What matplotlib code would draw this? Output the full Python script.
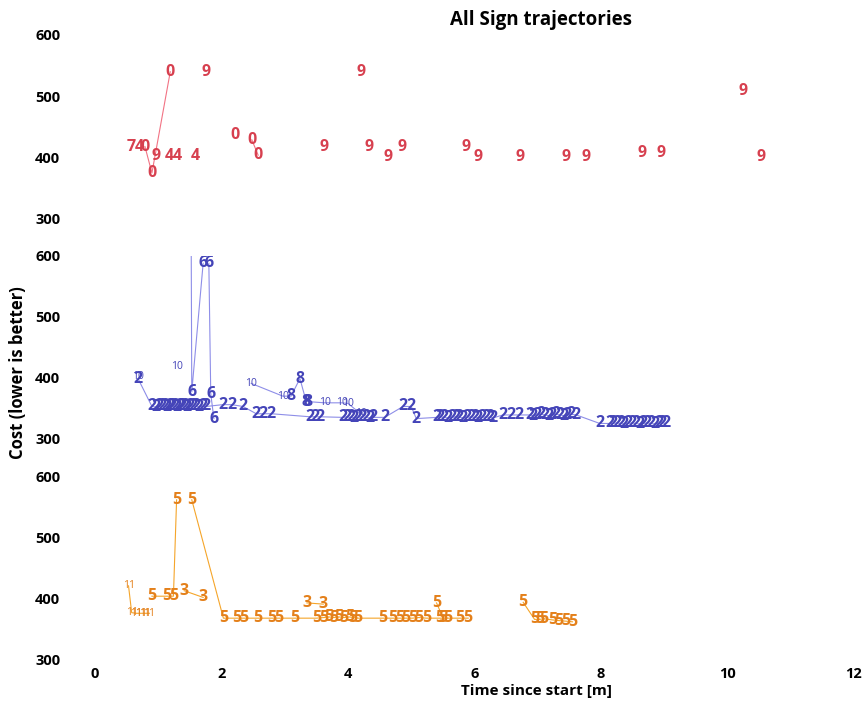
# Sign trajectories: cost over time, one panel per sign group.

import matplotlib.pyplot as plt

# --------------------------- DATA ---------------------------

# Top panel (red). track 0 = lone point, same track id > 0 = joined by a line.
red_labels = ['7', '4', '0', '0', '0', '9', '4', '4', '4', '9', '0', '0', '0', '9',
              '9', '9', '9', '9', '9', '9', '9', '9', '9', '9', '9', '9', '9']
red_times = [0.58, 0.70, 0.79, 0.90, 1.19, 0.96, 1.18, 1.30, 1.58, 1.76, 2.21, 2.48, 2.58, 3.62,
             4.20, 4.33, 4.63, 4.86, 5.87, 6.05, 6.72, 7.45, 7.76, 8.65, 8.95, 10.24, 10.53]
red_costs = [418, 418, 418, 375, 540, 402, 402, 402, 402, 540, 437, 429, 404, 418,
             540, 418, 401, 418, 418, 401, 401, 401, 401, 407, 407, 509, 401]
red_track = [0, 0, 1, 1, 1, 0, 0, 0, 0, 0, 0, 2, 2, 0,
             0, 0, 0, 0, 0, 0, 0, 0, 0, 0, 0, 0, 0]

# Middle panel (blue).
blue_labels = (['2'] * 92
               + ['10', '10', '8', '8', '8', '8', '10', '10', '10', '10']
               + ['6', '6', '6', '6', '6', '6'] + ['10', '10'])
blue_times = [0.68, 0.90, 0.96, 1.01, 1.06, 1.10, 1.14, 1.18, 1.22, 1.26, 1.30, 1.34, 1.38,
              1.42, 1.46, 1.50, 1.55, 1.60, 1.65, 1.70, 1.76, 2.02, 2.16, 2.34, 2.55, 2.66,
              2.79, 3.40, 3.48, 3.56, 3.92, 3.98, 4.04, 4.10, 4.16, 4.22, 4.28, 4.34, 4.40,
              4.58, 4.87, 5.00, 5.08, 5.40, 5.46, 5.52, 5.58, 5.64, 5.70, 5.76, 5.82, 5.88,
              5.94, 6.00, 6.06, 6.12, 6.18, 6.24, 6.29, 6.45, 6.58, 6.71, 6.87, 6.93, 6.99,
              7.05, 7.11, 7.17, 7.23, 7.29, 7.35, 7.41, 7.47, 7.53, 7.61, 7.98, 8.14, 8.19,
              8.25, 8.31, 8.37, 8.43, 8.49, 8.55, 8.61, 8.67, 8.73, 8.79, 8.85, 8.91, 8.97,
              9.03,
              2.47, 2.97, 3.10, 3.24, 3.34, 3.37, 3.63, 3.90, 4.00, 4.20,
              1.52, 1.53, 1.71, 1.80, 1.83, 1.88,
              0.68, 1.29]
blue_costs = [398, 352, 351, 352, 353, 352, 351, 352, 353, 352, 351, 352, 353, 352,
              351, 352, 353, 352, 351, 352, 352, 355, 355, 352, 340, 340, 340, 335,
              335, 335, 334, 335, 334, 333, 334, 335, 334, 333, 334, 334, 352, 352,
              332, 334, 335, 334, 333, 334, 335, 334, 333, 334, 335, 334, 333, 334,
              335, 334, 333, 338, 338, 338, 338, 337, 338, 339, 338, 337, 338, 339,
              338, 337, 338, 339, 338, 324, 324, 324, 325, 324, 323, 324, 325, 324,
              323, 324, 325, 324, 323, 324, 325, 324,
              390, 369, 369, 398, 360, 360, 358, 358, 357, 340,
              650, 376, 588, 588, 373, 332,
              402, 418]
blue_track = ([1] * 92
              + [2, 2, 2, 2, 2, 3, 3, 3, 3, 3]
              + [4, 4, 4, 5, 5, 5] + [0, 0])

# Bottom panel (orange).
orange_labels = (['11'] * 6 + ['5'] * 4 + ['3'] * 2 + ['5'] * 28 + ['3'] * 2
                 + ['5'] * 2 + ['5'] * 8)
orange_times = [0.53, 0.58, 0.65, 0.72, 0.79, 0.86,
                0.90, 1.13, 1.24, 1.29,
                1.41, 1.71,
                1.53, 2.03, 2.24, 2.35, 2.58, 2.79, 2.90, 3.16, 3.50, 3.62, 3.70, 3.78,
                3.86, 3.94, 4.02, 4.08, 4.16, 4.55, 4.71, 4.82, 4.92, 5.02, 5.12, 5.24,
                5.45, 5.58, 5.77, 5.90,
                3.35, 3.61,
                5.40, 5.50,
                6.77, 6.95, 7.03, 7.10, 7.24, 7.34, 7.45, 7.55]
orange_costs = [420, 376, 375, 375, 375, 375,
                403, 403, 403, 561,
                412, 401,
                561, 367, 367, 367, 367, 367, 367, 367, 367, 368, 369, 368,
                369, 368, 369, 368, 367, 367, 367, 367, 367, 367, 368, 367,
                367, 367, 367, 367,
                392, 390,
                392, 368,
                393, 365, 365, 366, 364, 363, 362, 361]
orange_track = ([1] * 6 + [2] * 4 + [3] * 2 + [4] * 28 + [5] * 2 + [6] * 2 + [7] * 8)

# --------------------------- STYLE ---------------------------

plt.rcParams['font.family'] = ['Open Sans', 'DejaVu Sans']

panels = [
    (red_labels, red_times, red_costs, red_track, '#d7404f', '#f27384', [0.1097, 0.6894, 0.8764, 0.2610]),
    (blue_labels, blue_times, blue_costs, blue_track, '#4444b8', '#8e8ee8', [0.1097, 0.3787, 0.8764, 0.2582]),
    (orange_labels, orange_times, orange_costs, orange_track, '#e4801a', '#f5a52a', [0.1097, 0.0652, 0.8764, 0.2596]),
]

# --------------------------- PLOT ---------------------------

fig = plt.figure(figsize=(8.66, 7.05), dpi=100)

for i, (labels, times, costs, track, text_color, line_color, rect) in enumerate(panels):
    ax = fig.add_axes(rect)
    ax.set_xlim(0, 12)
    ax.set_ylim(300, 600)
    for side in ax.spines.values():
        side.set_visible(False)
    ax.set_yticks([300, 400, 500, 600])
    ax.set_xticks([0, 2, 4, 6, 8, 10, 12])
    ax.tick_params(axis='y', length=0, pad=25, labelsize=10.5)
    ax.tick_params(axis='x', length=0, pad=6, labelsize=10.5, labelbottom=(i == 2))
    for lab in ax.get_yticklabels() + ax.get_xticklabels():
        lab.set_fontweight('bold')

    # Lines joining the points of each trajectory.
    for t in sorted(set(track)):
        if t == 0:
            continue
        xs = [x for x, k in zip(times, track) if k == t]
        ys = [y for y, k in zip(costs, track) if k == t]
        ax.plot(xs, ys, color=line_color, lw=0.8, zorder=1)

    # The sign number written at every point.
    for lab, x, y in zip(labels, times, costs):
        small = len(lab) > 1
        ax.text(x, y, lab, ha='center', va='center', color=text_color,
                fontsize=7.5 if small else 11.5, fontweight='normal' if small else 'bold',
                clip_on=True, zorder=2)

fig.text(0.625, 0.972, 'All Sign trajectories', ha='center', va='center',
         fontsize=13.5, fontweight='bold')
fig.text(0.619, 0.020, 'Time since start [m]', ha='center', va='center',
         fontsize=11, fontweight='bold')
fig.text(0.021, 0.472, 'Cost (lower is better)', ha='center', va='center',
         rotation=90, fontsize=12, fontweight='bold')

fig.savefig('out.png', dpi=100)
